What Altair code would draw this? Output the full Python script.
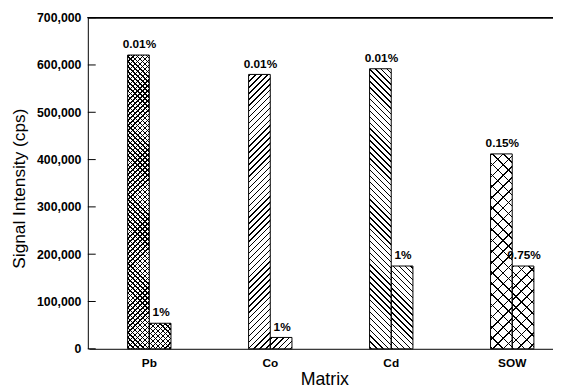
import altair as alt
import pandas as pd

# ---- data ----
matrix = ["Pb", "Co", "Cd", "SOW"]
low_values = [621000, 580000, 592000, 412000]
high_values = [54000, 24000, 175000, 175000]
low_labels = ["0.01%", "0.01%", "0.01%", "0.15%"]
high_labels = ["1%", "1%", "1%", "0.75%"]
hatch = ["cross", "up", "down", "cross"]          # hatch style per matrix
hatch_period = [5, 6, 6, 11]                       # hatch spacing per matrix (px)
y_ticks = [0, 100000, 200000, 300000, 400000, 500000, 600000, 700000]

# ---- layout constants ----
W, H = 472, 336
YMAX = 700000
X_RANGE = [1, 492]
BAR_W = 22.0
STEP = (X_RANGE[1] - X_RANGE[0]) / len(matrix)
LINE_W = 1.5


def stripes(period, length, line_color, bg):
    stops = [{"offset": 0, "color": bg}]
    k = 0
    while True:
        t0 = (k * period + 1) / length
        if t0 >= 1:
            break
        t1 = min(1.0, t0 + LINE_W / length)
        stops += [{"offset": t0, "color": bg}, {"offset": t0, "color": line_color},
                  {"offset": t1, "color": line_color}, {"offset": t1, "color": bg}]
        k += 1
    stops.append({"offset": 1, "color": bg})
    return stops


def grad(direction, w, h, period, line_color, bg):
    s = (w + h) / (w * w + h * h)
    du, dv = w * s, h * s
    st = stripes(period, w + h, line_color, bg)
    if direction == "up":   # "/" lines
        return {"gradient": "linear", "x1": 0, "y1": 0, "x2": du, "y2": dv, "stops": st}
    # "\" lines
    y2 = 1 - dv
    if y2 == 0:
        y2 = 1e-6
    return {"gradient": "linear", "x1": 0, "y1": 1, "x2": du, "y2": y2, "stops": st}


rows = []
for i, m in enumerate(matrix):
    for grp, val, lab in (("a", low_values[i], low_labels[i]), ("b", high_values[i], high_labels[i])):
        h = val / YMAX * H
        p = hatch_period[i]
        if hatch[i] == "cross":
            g1 = grad("up", BAR_W, h, p, "black", "white")
            g2 = grad("down", BAR_W, h, p, "black", "rgba(0,0,0,0)")
        elif hatch[i] == "up":
            g1 = grad("up", BAR_W, h, p, "black", "white")
            g2 = "rgba(0,0,0,0)"
        else:
            g1 = grad("down", BAR_W, h, p, "black", "white")
            g2 = "rgba(0,0,0,0)"
        rows.append({"matrix": m, "grp": grp, "value": val, "label": lab, "g1": g1, "g2": g2})

df = pd.DataFrame(rows)
ticks_df = pd.DataFrame({"t": y_ticks})

FONT = "Liberation Sans"

x_enc = alt.X("matrix:N", sort=matrix,
              scale=alt.Scale(range=X_RANGE, paddingInner=0, paddingOuter=0),
              axis=alt.Axis(title="Matrix", labelAngle=0, ticks=False, domainColor="black",
                            labelColor="black", labelFont=FONT, labelFontSize=12,
                            labelFontWeight="bold", labelPadding=9,
                            titleFont=FONT, titleFontSize=18, titleFontWeight="normal",
                            titleColor="black", titleX=240, titleY=36,
                            titleBaseline="alphabetic"))
xo_enc = alt.XOffset("grp:N", scale=alt.Scale(range=[STEP / 2 - BAR_W, STEP / 2 + BAR_W],
                                              paddingInner=0, paddingOuter=0))
y_enc = alt.Y("value:Q", stack=None,
              scale=alt.Scale(domain=[0, YMAX], nice=False),
              axis=alt.Axis(title="Signal Intensity (cps)", values=y_ticks, format=",d",
                            ticks=False, grid=False, domainColor="black",
                            labelColor="black", labelFont=FONT, labelFontSize=12.5,
                            labelFontWeight="bold", labelPadding=7,
                            titleFont=FONT, titleFontSize=17.5, titleFontWeight="normal",
                            titleColor="black", titleX=-64, titleY=173,
                            titleBaseline="alphabetic"))

base = alt.Chart(df)

bars1 = base.mark_bar(strokeWidth=0).encode(
    x=x_enc, xOffset=xo_enc, y=y_enc,
    fill=alt.Fill("g1:N", scale=None),
)
bars2 = base.mark_bar(stroke="black", strokeWidth=1).encode(
    x=x_enc, xOffset=xo_enc, y=y_enc,
    fill=alt.Fill("g2:N", scale=None),
)
labels = base.mark_text(baseline="bottom", dy=-4, dx=1, font=FONT, fontSize=12,
                        fontWeight="bold", color="black").encode(
    x=x_enc, xOffset=xo_enc, y=y_enc, text="label:N",
)
tick_marks = alt.Chart(ticks_df).mark_rule(color="black", strokeWidth=1).encode(
    y=alt.Y("t:Q"), x=alt.value(0), x2=alt.value(8),
)
top_line = alt.Chart(ticks_df).mark_rule(color="black", strokeWidth=1).encode(
    y=alt.datum(YMAX), x=alt.value(0), x2=alt.value(W + 20),
)

chart = alt.layer(bars1, bars2, labels, tick_marks, top_line).properties(
    width=W, height=H,
    autosize=alt.AutoSizeParams(type="none"),
    padding={"left": 81, "top": 7, "right": 0, "bottom": 39},
    background="white",
).configure_view(stroke=None)

chart.save("out.html", embed_options={"renderer": "svg", "actions": False})
